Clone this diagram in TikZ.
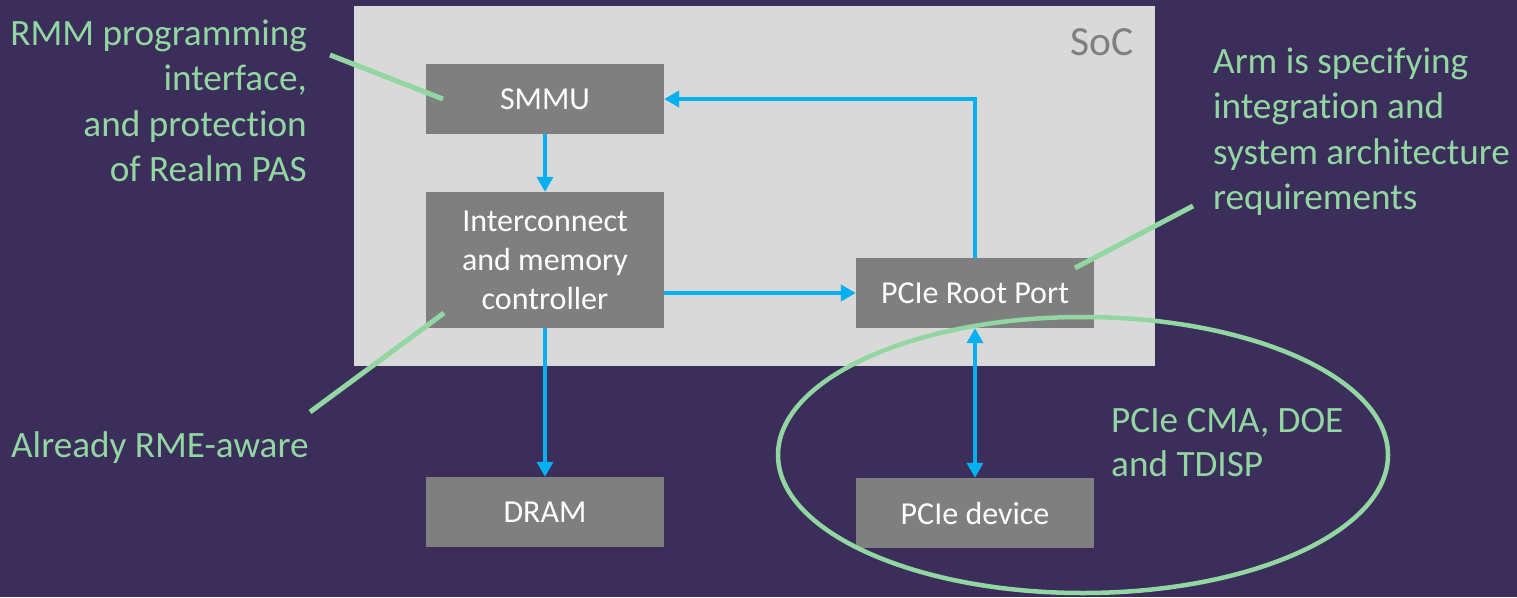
\documentclass[tikz,border=0pt]{standalone}
\usepackage{fontspec}
\setmainfont[Ligatures=NoCommon]{Carlito}
\usetikzlibrary{arrows.meta}

\definecolor{bgpurple}{RGB}{59,46,90}
\definecolor{socgrey}{RGB}{217,217,217}
\definecolor{boxgrey}{RGB}{127,127,127}
\definecolor{flowblue}{RGB}{0,176,240}
\definecolor{notegreen}{RGB}{146,214,161}

\tikzset{
  block/.style={draw=none, fill=boxgrey, text=white, inner sep=0pt,
    minimum width=238pt, minimum height=70pt, align=center,
    font=\fontsize{32}{39}\selectfont},
  flow/.style={draw=flowblue, line width=4.5pt,
    -{Triangle[length=15pt,width=16pt]}},
  flowboth/.style={draw=flowblue, line width=4.5pt,
    {Triangle[length=15pt,width=16pt]}-{Triangle[length=15pt,width=16pt]}},
  pointer/.style={draw=notegreen, line width=5pt},
  note/.style={text=notegreen, inner sep=0pt,
    font=\fontsize{37.2}{45.5}\selectfont},
}

\begin{document}
\begin{tikzpicture}[x=1pt,y=-1pt]
  % page and background
  \fill[bgpurple] (0,0) rectangle (1517,597);
  \useasboundingbox (0,0) rectangle (1517,597);

  % SoC outline
  \node[fill=socgrey, inner sep=0pt, minimum width=801pt, minimum height=360pt]
    (soc) at (754.5,186) {};
  \node[anchor=base east, inner sep=0pt, text=boxgrey,
    font=\fontsize{41.5}{49}\selectfont] (soclabel) at (1134,55) {SoC};

  % blocks
  \node[block] (smmu) at (545,99) {SMMU};
  \node[block, minimum height=136pt] (ic) at (545,260)
    {Interconnect\\and memory\\controller};
  \node[block] (dram) at (545,512) {DRAM};
  \node[block] (root) at (975,293) {PCIe Root Port};
  \node[block] (dev) at (975,513) {PCIe device};

  % PCIe security scope
  \draw[notegreen, line width=4.5pt] (1083,455) ellipse [x radius=305, y radius=138];

  % data paths
  \draw[flow] (smmu.south) -- (ic.north);
  \draw[flow] (root.north) |- (smmu.east);
  \draw[flow] (ic.east |- root.west) -- (root.west);
  \draw[flow] (ic.south) -- (dram.north);
  \draw[flowboth] (root.south) -- (dev.north);

  % annotations
  \node[note, anchor=base east] (nrmm) at (307,45)
    {\begin{tabular}[t]{@{}r@{}}RMM programming\\interface,\\and protection\\of Realm PAS\end{tabular}};
  \node[note, anchor=base west] (narm) at (1213,73)
    {\begin{tabular}[t]{@{}l@{}}Arm is specifying\\integration and\\system architecture\\requirements\end{tabular}};
  \node[note, anchor=base west] (nrme) at (11,457) {Already RME-aware};
  \node[note, anchor=base west, font=\fontsize{37.2}{44}\selectfont] (npcie) at (1111,432)
    {\begin{tabular}[t]{@{}l@{}}PCIe CMA, DOE\\and TDISP\end{tabular}};

  % annotation pointers
  \coordinate (prmm) at (330,55);
  \coordinate (tsmmu) at (443,99);
  \coordinate (prme) at (310,412);
  \coordinate (tic) at (444,313);
  \coordinate (parm) at (1193,206);
  \coordinate (troot) at (1075,268);
  \draw[pointer] (prmm) -- (tsmmu);
  \draw[pointer] (prme) -- (tic);
  \draw[pointer] (parm) -- (troot);
\end{tikzpicture}
\end{document}
